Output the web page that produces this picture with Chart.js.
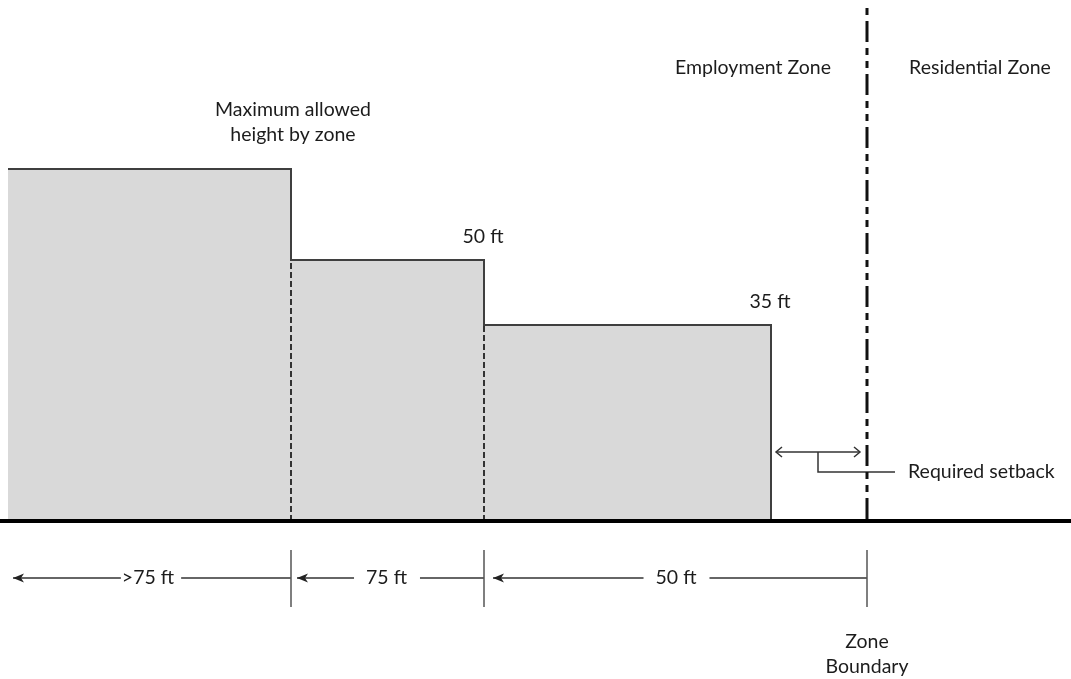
<!DOCTYPE html>
<html>
<head>
<meta charset="utf-8">
<script src="https://cdn.jsdelivr.net/npm/chart.js@4"></script>
<style>
  html, body { margin: 0; padding: 0; background: #fff; }
  #wrap { width: 1071px; height: 679px; position: relative; }
</style>
</head>
<body>
<div id="wrap"><canvas id="chartSetback"></canvas></div>
<script>
/** Zones stepping down toward the zone boundary
 *  x = diagram position, y = drawn height above ground
*/
const zoneStart = [8, 291, 484];
const zoneEnd = [291, 484, 771];
const zoneHeight = [352, 261, 196];
const heightLabels = ['', '50 ft', '35 ft'];
const distanceLabels = ['>75 ft', '75 ft', '50 ft'];
const boundaryX = 867;
const setbackFrom = 776;
const setbackTo = 860;
const zoneNames = ['Employment Zone', 'Residential Zone'];

const FONT = '19.5px Lato, "Open Sans", sans-serif';
const TEXT = '#1c1c1c';
const groundY = 0;
const dimY = -57;

// stepped outline of the allowed heights
const profile = [];
zoneStart.forEach((x0, i) => {
  profile.push({ x: x0, y: zoneHeight[i] });
  profile.push({ x: zoneEnd[i], y: zoneHeight[i] });
});
profile.push({ x: zoneEnd[zoneEnd.length - 1], y: groundY });

const datasets = [];

datasets.push({
  data: profile,
  borderColor: '#3f3f3f',
  borderWidth: 2,
  backgroundColor: '#d9d9d9',
  fill: 'origin',
  order: 6
});

// dashed dividers where a lower zone begins
for (let i = 1; i < zoneStart.length; i++) {
  datasets.push({
    data: [{ x: zoneStart[i], y: groundY }, { x: zoneStart[i], y: zoneHeight[i] }],
    borderColor: '#333',
    borderWidth: 2,
    borderDash: [6, 3],
    fill: false,
    order: 5
  });
}

// ground
datasets.push({
  data: [{ x: 0, y: groundY }, { x: 1071, y: groundY }],
  borderColor: '#000',
  borderWidth: 4,
  fill: false,
  order: 1
});

// zone boundary (dash-dot-dot)
datasets.push({
  data: [{ x: boundaryX, y: 513 }, { x: boundaryX, y: groundY }],
  borderColor: '#111',
  borderWidth: 3,
  borderDash: [7, 6, 21, 6, 7, 6],
  fill: false,
  order: 0
});

// tick marks under the ground
const dimTicks = [zoneEnd[0], zoneEnd[1], boundaryX];
dimTicks.forEach(x => {
  datasets.push({
    data: [{ x: x, y: -29 }, { x: x, y: -86 }],
    borderColor: '#555',
    borderWidth: 1.5,
    fill: false,
    order: 2
  });
});

// dimension lines
const dimStarts = [13, dimTicks[0] + 6, dimTicks[1] + 9];
dimStarts.forEach((x0, i) => {
  datasets.push({
    data: [{ x: x0, y: dimY }, { x: dimTicks[i], y: dimY }],
    borderColor: '#333',
    borderWidth: 1.5,
    fill: false,
    order: 3
  });
});

// required setback arrow and leader
datasets.push({
  data: [{ x: setbackFrom, y: 69 }, { x: setbackTo, y: 69 }],
  borderColor: '#333',
  borderWidth: 1.5,
  fill: false,
  order: 3
});
datasets.push({
  data: [{ x: 818, y: 69 }, { x: 818, y: 49 }, { x: 895, y: 49 }],
  borderColor: '#333',
  borderWidth: 1.5,
  fill: false,
  order: 3
});

const annotate = {
  id: 'annotate',
  afterDatasetsDraw(chart) {
    const ctx = chart.ctx;
    const sx = chart.scales.x, sy = chart.scales.y;
    const X = v => sx.getPixelForValue(v);
    const Y = v => sy.getPixelForValue(v);

    ctx.save();
    ctx.font = FONT;
    ctx.fillStyle = TEXT;
    ctx.textAlign = 'center';
    ctx.textBaseline = 'middle';

    const text = (s, x, y, align) => {
      ctx.textAlign = align || 'center';
      ctx.fillText(s, X(x), Y(y));
    };

    // filled arrow heads pointing left
    ctx.fillStyle = '#222';
    dimStarts.forEach(x0 => {
      const px = X(x0), py = Y(dimY);
      ctx.beginPath();
      ctx.moveTo(px, py);
      ctx.lineTo(px + 11, py - 4.5);
      ctx.lineTo(px + 8, py);
      ctx.lineTo(px + 11, py + 4.5);
      ctx.closePath();
      ctx.fill();
    });

    // open chevrons on the setback arrow
    ctx.strokeStyle = '#333';
    ctx.lineWidth = 1.5;
    const ay = Y(69);
    ctx.beginPath();
    ctx.moveTo(X(setbackFrom) + 6, ay - 5);
    ctx.lineTo(X(setbackFrom), ay);
    ctx.lineTo(X(setbackFrom) + 6, ay + 5);
    ctx.moveTo(X(setbackTo) - 6, ay - 5);
    ctx.lineTo(X(setbackTo), ay);
    ctx.lineTo(X(setbackTo) - 6, ay + 5);
    ctx.stroke();

    // distance labels sitting on the dimension lines
    distanceLabels.forEach((s, i) => {
      const cx = (X(dimStarts[i]) + X(dimTicks[i])) / 2 - 4;
      const w = ctx.measureText(s).width;
      ctx.fillStyle = '#fff';
      ctx.fillRect(cx - w / 2 - (i === 0 ? 1 : 12), Y(dimY) - 10, w + (i === 0 ? 8 : 25), 20);
      ctx.fillStyle = TEXT;
      ctx.textAlign = 'center';
      ctx.fillText(s, cx, Y(dimY));
    });

    ctx.fillStyle = TEXT;
    heightLabels.forEach((s, i) => {
      if (s) text(s, zoneEnd[i] - 1, zoneHeight[i] + 23);
    });

    text('Maximum allowed', zoneEnd[0] + 2, zoneHeight[0] + 59);
    text('height by zone', zoneEnd[0] + 2, zoneHeight[0] + 34);

    text(zoneNames[0], boundaryX - 114, 453);
    text(zoneNames[1], boundaryX + 113, 453);

    text('Required setback', 908, 49, 'left');

    text('Zone', boundaryX, -121);
    text('Boundary', boundaryX, -146);

    ctx.restore();
  }
};

new Chart(document.getElementById('chartSetback'), {
  type: 'line',
  data: { datasets: datasets },
  options: {
    responsive: true,
    maintainAspectRatio: false,
    animation: false,
    layout: { padding: 0 },
    elements: { point: { radius: 0, hoverRadius: 0 }, line: { tension: 0 } },
    plugins: { legend: { display: false }, tooltip: { enabled: false } },
    scales: {
      x: { type: 'linear', min: 0, max: 1071, display: false },
      y: { type: 'linear', min: -158, max: 521, display: false }
    }
  },
  plugins: [annotate]
});
</script>
</body>
</html>
